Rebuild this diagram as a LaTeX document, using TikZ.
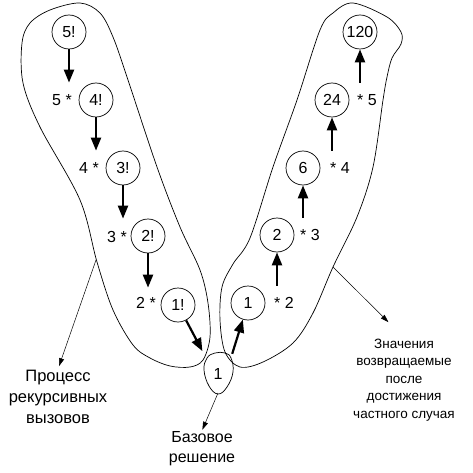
\documentclass[tikz,border=0pt]{standalone}
\usepackage{fontspec}
\setmainfont{Liberation Sans}
\usetikzlibrary{arrows.meta}
\tikzset{
  fact/.style={circle,draw,line width=0.7pt,minimum size=34pt,inner sep=0pt,font=\fontsize{16}{18}\selectfont},
  mult/.style={inner sep=1pt,font=\fontsize{16}{18}\selectfont},
  call/.style={line width=2.2pt,-{Triangle[length=13pt,width=10pt]}},
  note/.style={align=center,inner sep=1pt},
  pointer/.style={line width=0.5pt,-{Triangle[length=8pt,width=5pt]}},
  blob/.style={line width=0.7pt}
}
\begin{document}
\begin{tikzpicture}[x=1pt,y=-1pt]
\useasboundingbox (0,0) rectangle (473,473);

% recursive calls
\node[fact] (f5) at (69,32) {5!};
\node[fact] (f4) at (96,100) {4!};
\node[fact] (f3) at (123,168) {3!};
\node[fact] (f2) at (148,236) {2!};
\node[fact] (f1) at (178,305) {1!};
\node[mult] (m5) at (62,100) {5 *};
\node[mult] (m4) at (89,168) {4 *};
\node[mult] (m3) at (117,237) {3 *};
\node[mult] (m2) at (146,303) {2 *};

\draw[call] (f5.south) -- (f5.south |- f4.north);
\draw[call] (f4.south) -- (f4.south |- f3.north);
\draw[call] (f3.south) -- (f3.south |- f2.north);
\draw[call] (f2.south) -- (f2.south |- f1.north);

% base case
\node[inner sep=0pt,minimum width=28pt,minimum height=40pt,font=\fontsize{16}{18}\selectfont] (base) at (218,374) {1};
\draw[blob] plot[smooth cycle,tension=0.7] coordinates {(215,353) (225,353) (231,358) (233,372) (227,387) (218,394) (209,386) (204,370) (207,358)};
\draw[call,shorten >=3pt] (f1) -- (base.north west);

% returned values
\node[fact] (r120) at (360,32) {120};
\node[fact] (r24) at (332,100) {24};
\node[fact] (r6) at (303,168) {6};
\node[fact] (r2) at (277,235) {2};
\node[fact] (r1) at (248,303) {1};
\node[mult] (k5) at (367,100) {* 5};
\node[mult] (k4) at (340,168) {* 4};
\node[mult] (k3) at (310,235) {* 3};
\node[mult] (k2) at (284,303) {* 2};

\draw[call] (base.north east) -- (r1);
\draw[call] (r2.south |- r1.north) -- (r2.south);
\draw[call] (r6.south |- r2.north) -- (r6.south);
\draw[call] (r24.south |- r6.north) -- (r24.south);
\draw[call] (r120.south |- r24.north) -- (r120.south);

% outlines
\draw[blob] plot[smooth cycle,tension=0.55] coordinates {(80,3) (100,13) (113,37) (127,77) (157,167) (180,227) (200,270) (208,303) (210,337) (203,360) (190,367) (170,366) (150,358) (133,345) (113,310) (97,262) (80,200) (40,127) (23,83) (22,43) (30,23) (50,10)};
\draw[blob] plot[smooth cycle,tension=0.55] coordinates {(353,3) (387,17) (401,32) (401,44) (392,58) (387,77) (383,100) (373,167) (357,217) (333,267) (313,313) (293,343) (263,362) (240,367) (225,352) (220,320) (222,287) (233,264) (250,238) (273,167) (297,100) (320,30) (333,13)};
\coordinate (lb) at (96,260);
\coordinate (bb) at (218,393);
\coordinate (rb) at (333,267);

% notes
\node[note,font=\fontsize{16.5}{21}\selectfont] (proc) at (58,397) {Процесс\\рекурсивных\\вызовов};
\node[note,font=\fontsize{16}{20}\selectfont] (basic) at (202,449) {Базовое\\решение};
\node[note,font=\fontsize{13.5}{17.5}\selectfont] (vals) at (404,380) {Значения\\возвращаемые\\после\\достижения\\частного случая};
\draw[pointer,shorten >=3pt] (lb) -- (proc.north);
\draw[pointer,shorten >=1pt] (bb) -- (basic.north);
\draw[pointer,shorten >=22pt] (rb) -- (vals.north);
\end{tikzpicture}
\end{document}
